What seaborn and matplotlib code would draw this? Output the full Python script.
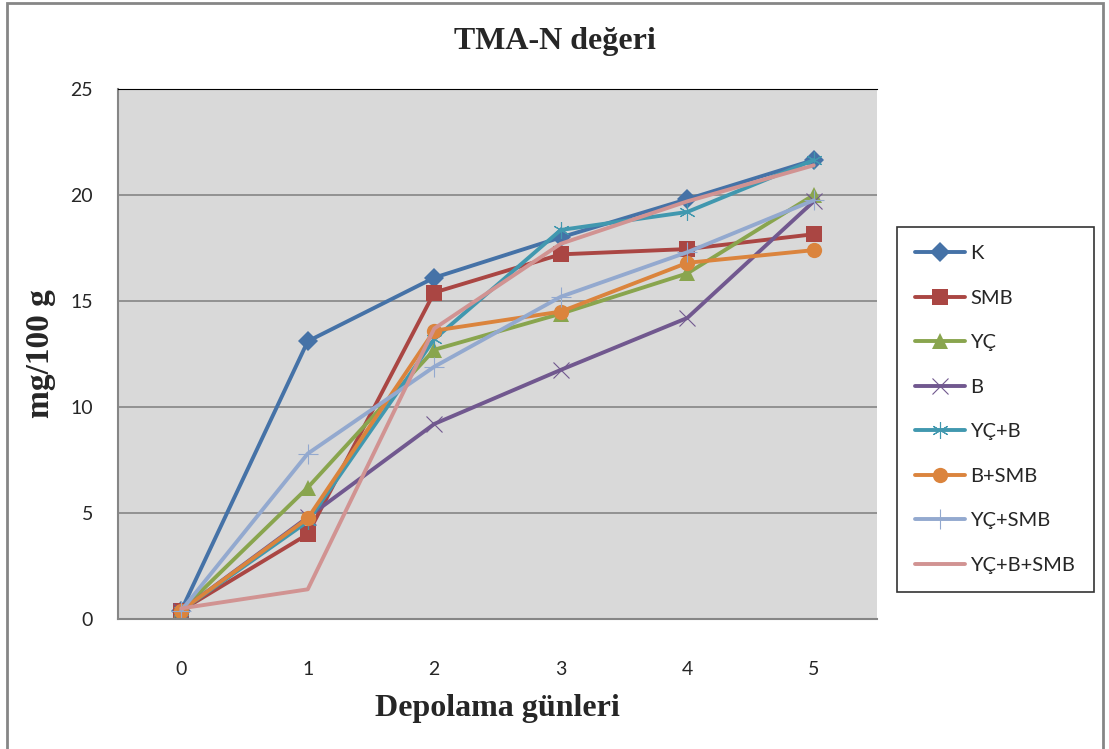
import matplotlib
matplotlib.use("Agg")
import matplotlib.pyplot as plt
import seaborn as sns
from matplotlib.ticker import FixedLocator, NullFormatter

# storage days and TMA-N values (mg/100 g)
days = [0, 1, 2, 3, 4, 5]
k_vals = [0.4, 13.1, 16.1, 18.0, 19.8, 21.65]
smb_vals = [0.4, 4.0, 15.4, 17.2, 17.45, 18.15]
yc_vals = [0.4, 6.2, 12.7, 14.4, 16.3, 20.0]
b_vals = [0.4, 4.8, 9.2, 11.75, 14.2, 19.7]
ycb_vals = [0.4, 4.6, 13.2, 18.35, 19.2, 21.65]
bsmb_vals = [0.4, 4.75, 13.6, 14.5, 16.8, 17.4]
ycsmb_vals = [0.4, 7.8, 11.9, 15.2, 17.3, 19.75]
ycbsmb_vals = [0.5, 1.4, 13.7, 17.7, 19.7, 21.4]

names = ["K", "SMB", "YÇ", "B", "YÇ+B", "B+SMB", "YÇ+SMB", "YÇ+B+SMB"]
series = [k_vals, smb_vals, yc_vals, b_vals, ycb_vals, bsmb_vals, ycsmb_vals, ycbsmb_vals]
colors = ["#4572A7", "#AA4643", "#89A54E", "#71588F", "#4198AF", "#DB843D", "#93A9CF", "#D19392"]
markers = ["D", "s", "^", "x", (6, 2, 0), "o", "+", None]
msizes = [10, 12, 11, 11, 12, 11, 14, 0]

sns.set_style("white")
plt.rcParams["font.family"] = ["Lato", "DejaVu Sans"]

fig = plt.figure(figsize=(11.09, 7.49), dpi=100)
ax = fig.add_axes([118 / 1109, 1 - 619 / 749, (877 - 118) / 1109, (619 - 89) / 749])
ax.set_facecolor("#D9D9D9")

for name, vals, c, m, ms in zip(names, series, colors, markers, msizes):
    thin = m in ("x", "+", (6, 2, 0))
    sns.lineplot(x=days, y=vals, ax=ax, color=c, lw=2.8, marker=m, markersize=ms,
                 markeredgewidth=0.8 if thin else 0, markeredgecolor=c,
                 label=name, solid_capstyle="round")

ax.set_xlim(-0.5, 5.5)
ax.set_ylim(0, 25)
ax.set_yticks([0, 5, 10, 15, 20, 25])
ax.yaxis.grid(True, color="#868686", lw=1.2)
ax.xaxis.set_major_locator(FixedLocator([i - 0.5 for i in range(7)]))
ax.xaxis.set_major_formatter(NullFormatter())
ax.xaxis.set_minor_locator(FixedLocator(days))
ax.set_xticklabels([str(d) for d in days], minor=True)
ax.tick_params(axis="x", which="major", length=6, color="#868686", width=1.2)
ax.tick_params(axis="x", which="minor", length=0, pad=30, labelsize=14)
ax.tick_params(axis="y", length=6, color="#868686", width=1.2, labelsize=14, pad=12)
for side in ["left", "bottom"]:
    ax.spines[side].set_color("#868686")
    ax.spines[side].set_linewidth(1.5)
ax.spines["top"].set_color("black")
ax.spines["right"].set_visible(False)

serif = ["Liberation Serif", "DejaVu Serif"]
ax.set_xlabel("Depolama günleri", family=serif, fontweight="bold", fontsize=23, labelpad=12)
ax.set_ylabel("mg/100 g", family=serif, fontweight="bold", fontsize=24, labelpad=10)
fig.text(0.5, 1 - 42 / 749, "TMA-N değeri", family=serif, fontweight="bold",
         fontsize=23, ha="center", va="center")

leg = ax.legend(loc="upper left", bbox_to_anchor=(897 / 1109, 1 - 227 / 749),
                bbox_transform=fig.transFigure, frameon=True, fancybox=False,
                edgecolor="black", fontsize=14.5, handlelength=2.5, labelspacing=1.36,
                borderpad=0.9, handletextpad=0.25, borderaxespad=0)
leg.get_frame().set_linewidth(1.2)

# outer chart border
fig.patches.append(plt.Rectangle((7 / 1109, -0.01), (1103 - 7) / 1109, 1 - 3 / 749 + 0.01,
                                 transform=fig.transFigure, fill=False,
                                 edgecolor="#868686", lw=2))

fig.savefig("out.png", dpi=100)
